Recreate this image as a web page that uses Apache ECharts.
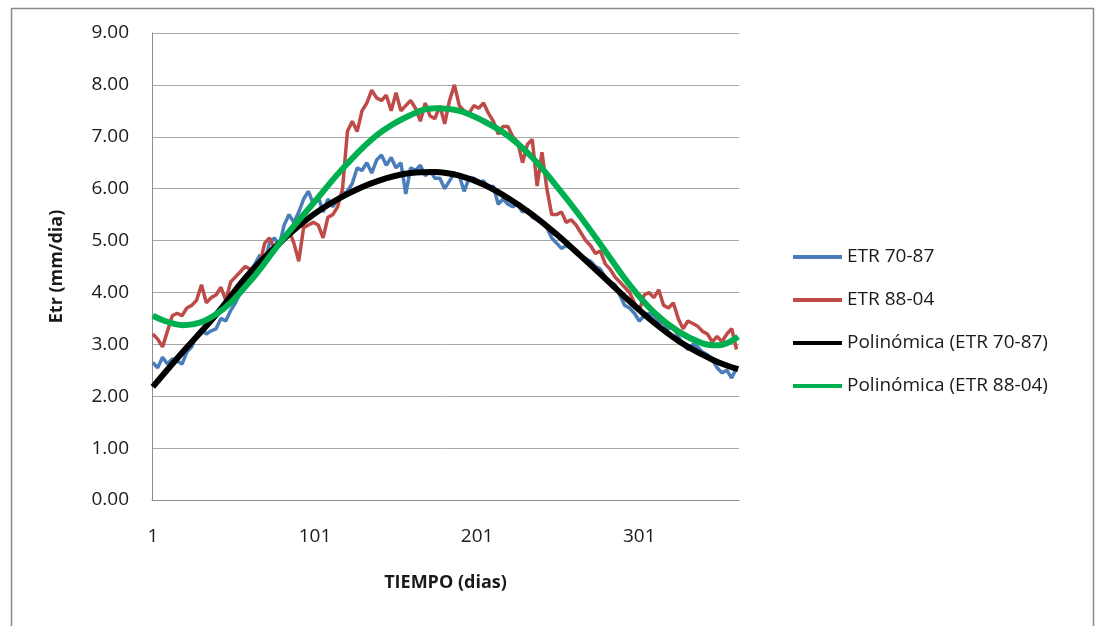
<!DOCTYPE html>
<html>
<head>
<meta charset="utf-8">
<script src="https://cdn.jsdelivr.net/npm/echarts@6/dist/echarts.min.js"></script>
<style>
html,body{margin:0;padding:0;background:#fff;}
#chart{width:1096px;height:626px;}
</style>
</head>
<body>
<div id="chart"></div>
<script>
// ---- data ----
const dayCount = 362;
const categories = Array.from({length: dayCount}, (_, i) => String(i + 1));

const sampleDays = [1,4,7,10,13,16,19,22,25,28,31,34,37,40,43,46,49,52,55,58,61,64,67,70,73,76,79,82,85,88,91,94,97,100,103,106,109,112,115,118,121,124,127,130,133,136,139,142,145,148,151,154,157,160,163,166,169,172,175,178,181,184,187,190,193,196,199,202,205,208,211,214,217,220,223,226,229,232,235,238,241,244,247,250,253,256,259,262,265,268,271,274,277,280,283,286,289,292,295,298,301,304,307,310,313,316,319,322,325,328,331,334,337,340,343,346,349,352,355,358,361];

const etr7087 = [2.65,2.55,2.75,2.62,2.72,2.68,2.62,2.85,2.95,3.18,3.28,3.20,3.26,3.30,3.50,3.45,3.65,3.80,4.00,4.10,4.40,4.55,4.72,4.60,4.95,5.05,4.90,5.30,5.50,5.35,5.55,5.80,5.95,5.70,5.85,5.55,5.80,5.65,5.80,5.90,5.95,6.10,6.40,6.35,6.50,6.30,6.55,6.65,6.45,6.60,6.40,6.50,5.90,6.40,6.35,6.45,6.25,6.35,6.20,6.20,6.00,6.15,6.30,6.25,5.95,6.20,6.20,6.10,6.15,6.00,6.05,5.70,5.80,5.70,5.65,5.70,5.55,5.60,5.45,5.40,5.35,5.25,5.05,4.95,4.85,4.90,4.85,4.80,4.70,4.65,4.60,4.50,4.45,4.30,4.20,4.15,3.95,3.75,3.70,3.60,3.45,3.55,3.60,3.55,3.45,3.40,3.30,3.35,3.15,3.00,2.90,3.00,2.95,2.85,2.80,2.70,2.55,2.45,2.50,2.35,2.55];

const etr8804 = [3.20,3.10,2.95,3.25,3.55,3.60,3.55,3.70,3.75,3.85,4.15,3.80,3.90,3.95,4.10,3.85,4.20,4.30,4.40,4.50,4.45,4.40,4.55,4.95,5.05,4.85,4.90,5.00,5.20,4.95,4.60,5.25,5.30,5.35,5.30,5.05,5.45,5.50,5.65,6.00,7.10,7.30,7.10,7.50,7.65,7.90,7.75,7.70,7.80,7.50,7.85,7.50,7.60,7.70,7.55,7.30,7.65,7.40,7.35,7.60,7.25,7.70,8.00,7.60,7.50,7.45,7.60,7.55,7.65,7.45,7.30,7.05,7.20,7.20,7.00,6.90,6.50,6.85,6.95,6.05,6.70,6.00,5.50,5.50,5.55,5.35,5.40,5.30,5.15,5.00,4.90,4.75,4.80,4.55,4.45,4.30,4.20,4.10,4.00,3.80,3.65,3.95,4.00,3.90,4.05,3.75,3.70,3.80,3.50,3.30,3.45,3.40,3.35,3.25,3.20,3.05,3.15,3.05,3.20,3.30,2.90];

const trendDays = [1,20,40,60,80,100,120,140,160,175,190,205,220,235,250,265,280,295,310,325,340,350,362];
const poly7087 = [2.18,2.87,3.57,4.35,4.98,5.50,5.88,6.15,6.30,6.32,6.25,6.08,5.82,5.50,5.12,4.70,4.27,3.83,3.42,3.07,2.80,2.65,2.52];
const poly8804 = [3.55,3.37,3.58,4.18,4.98,5.72,6.45,7.05,7.42,7.55,7.50,7.30,7.02,6.60,6.05,5.45,4.80,4.15,3.62,3.25,3.02,2.98,3.15];

const yTicks = [0,1,2,3,4,5,6,7,8,9];
const seriesNames = ['ETR 70-87','ETR 88-04','Polinómica (ETR 70-87)','Polinómica (ETR 88-04)'];
const seriesColors = ['#4a7ebb','#be4b48','#000000','#00b050'];

// ---- chart ----
const pair = (days, vals) => days.map((d, i) => [String(d), vals[i]]);
const font = '"Open Sans", Lato, sans-serif';

const chart = echarts.init(document.getElementById('chart'), null, {renderer: 'canvas'});
chart.setOption({
  animation: false,
  backgroundColor: '#ffffff',
  graphic: [{
    type: 'rect', left: 9, top: 6, z: -10,
    shape: {width: 1082, height: 640},
    style: {fill: 'none', stroke: '#8a8a8a', lineWidth: 1.5}
  }],
  grid: {left: 152, right: 357, top: 33, bottom: 126, containLabel: false},
  legend: {
    orient: 'vertical', left: 788, top: 242,
    itemWidth: 49, itemHeight: 4, itemGap: 23,
    icon: 'rect',
    data: seriesNames,
    textStyle: {fontFamily: font, fontSize: 19, color: '#1a1a1a', lineHeight: 20}
  },
  xAxis: {
    type: 'category', data: categories, boundaryGap: true,
    name: 'TIEMPO (dias)', nameLocation: 'middle', nameGap: 74,
    nameTextStyle: {fontFamily: font, fontSize: 18, fontWeight: 'bold', color: '#1a1a1a'},
    axisLine: {lineStyle: {color: '#8c8c8c', width: 1}},
    axisTick: {show: false},
    axisLabel: {interval: 99, margin: 27, fontFamily: font, fontSize: 19, color: '#1a1a1a'},
    splitLine: {show: false}
  },
  yAxis: {
    type: 'value', min: yTicks[0], max: yTicks[yTicks.length - 1], interval: 1,
    name: 'Etr (mm/dia)', nameLocation: 'middle', nameGap: 86,
    nameTextStyle: {fontFamily: font, fontSize: 18, fontWeight: 'bold', color: '#1a1a1a'},
    axisLine: {show: true, lineStyle: {color: '#8c8c8c', width: 1}},
    axisTick: {show: false},
    axisLabel: {margin: 23, fontFamily: font, fontSize: 19, color: '#1a1a1a', formatter: v => v.toFixed(2)},
    splitLine: {lineStyle: {color: '#a8a8a8', width: 1}}
  },
  series: [
    {name: seriesNames[0], type: 'line', data: pair(sampleDays, etr7087), showSymbol: false, symbol: 'none',
     lineStyle: {color: seriesColors[0], width: 3.5}, itemStyle: {color: seriesColors[0]}},
    {name: seriesNames[1], type: 'line', data: pair(sampleDays, etr8804), showSymbol: false, symbol: 'none',
     lineStyle: {color: seriesColors[1], width: 3.5}, itemStyle: {color: seriesColors[1]}},
    {name: seriesNames[2], type: 'line', data: pair(trendDays, poly7087), showSymbol: false, symbol: 'none', smooth: 0.4,
     lineStyle: {color: seriesColors[2], width: 6}, itemStyle: {color: seriesColors[2]}},
    {name: seriesNames[3], type: 'line', data: pair(trendDays, poly8804), showSymbol: false, symbol: 'none', smooth: 0.4,
     lineStyle: {color: seriesColors[3], width: 6}, itemStyle: {color: seriesColors[3]}}
  ]
});
</script>
</body>
</html>
